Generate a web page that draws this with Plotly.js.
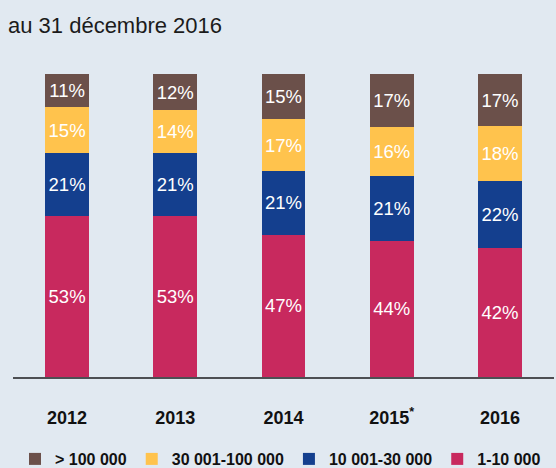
<!DOCTYPE html>
<html>
<head>
<meta charset="utf-8">
<script src="https://cdn.plot.ly/plotly-3.0.1.min.js"></script>
<style>html,body{margin:0;padding:0;background:#e1e9f1;}#chart{width:556px;height:468px;}</style>
</head>
<body>
<div id="chart"></div>
<script>
// Data
var years = ['2012', '2013', '2014', '2015<sup>*</sup>', '2016'];
var seriesNames = ['1-10 000', '10 001-30 000', '30 001-100 000', '> 100 000'];
var v1to10k = [53, 53, 47, 44, 42];
var v10kto30k = [21, 21, 21, 21, 22];
var v30kto100k = [15, 14, 17, 16, 18];
var vOver100k = [11, 12, 15, 17, 17];
var colors = ['#c8295e', '#143f8e', '#ffc34d', '#6b504a'];

var seriesValues = [v1to10k, v10kto30k, v30kto100k, vOver100k];
var traces = seriesValues.map(function (vals, i) {
  return {
    type: 'bar',
    name: seriesNames[i],
    x: years,
    y: vals,
    text: vals.map(function (v) { return v + '%'; }),
    textposition: 'inside',
    insidetextanchor: 'middle',
    textangle: 0,
    constraintext: 'none',
    textfont: {family: '"Liberation Sans", Arial, sans-serif', size: 18.5, color: '#ffffff'},
    marker: {color: colors[i]},
    hoverinfo: 'none'
  };
});

var layout = {
  width: 556,
  height: 468,
  margin: {l: 13, r: 2, t: 74, b: 91},
  paper_bgcolor: '#e1e9f1',
  plot_bgcolor: '#e1e9f1',
  barmode: 'stack',
  barnorm: 'percent',
  bargap: 0.594,
  showlegend: true,
  title: {
    text: 'au 31 décembre 2016',
    x: 8 / 556, xref: 'container', xanchor: 'left',
    y: 1 - 25 / 468, yref: 'container', yanchor: 'middle',
    font: {family: '"Liberation Sans", Arial, sans-serif', size: 22, color: '#1b1b1b'}
  },
  xaxis: {
    type: 'category',
    range: [-0.5, 4.5],
    showline: true,
    linecolor: '#4d4f53',
    linewidth: 2,
    ticks: '',
    showgrid: false,
    zeroline: false,
    ticklabelstandoff: 23,
    tickfont: {family: '"Liberation Sans", Arial, sans-serif', size: 18, color: '#111111', weight: 'bold'},
    fixedrange: true
  },
  yaxis: {
    range: [0, 100],
    visible: false,
    showgrid: false,
    zeroline: false,
    fixedrange: true
  },
  legend: {
    orientation: 'h',
    traceorder: 'reversed',
    x: 15 / 556, xref: 'container', xanchor: 'left',
    y: 1 - 442 / 468, yref: 'container', yanchor: 'top',
    bgcolor: 'rgba(0,0,0,0)',
    font: {family: '"Liberation Sans", Arial, sans-serif', size: 16, color: '#111111', weight: 'bold'}
  }
};

Plotly.newPlot('chart', traces, layout, {displayModeBar: false, staticPlot: true});
</script>
</body>
</html>
